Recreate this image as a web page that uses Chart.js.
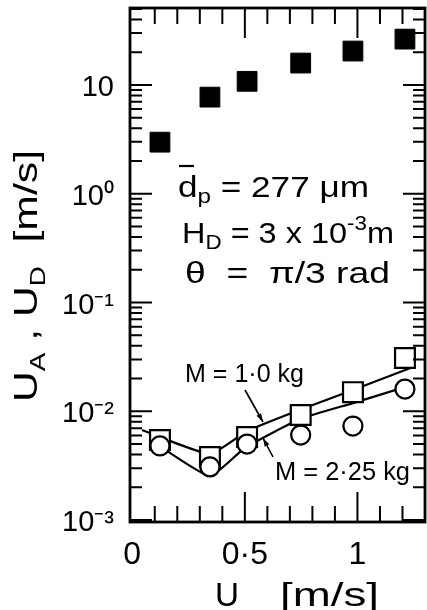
<!DOCTYPE html>
<html>
<head>
<meta charset="utf-8">
<script src="https://cdn.jsdelivr.net/npm/chart.js@4/dist/chart.umd.min.js"></script>
<style>
html, body { margin: 0; padding: 0; background: #fff; }
</style>
</head>
<body>
<canvas id="chart" width="427" height="610"></canvas>
<script>
// gas velocity U [m/s]
var speedU = [0.123, 0.345, 0.51, 0.748, 0.98, 1.211];
// U_A, filled squares
var uFilled = [2.98, 7.73, 10.8, 15.9, 20.5, 26.4];
// U_D, open squares (M = 1.0 kg) and open circles (M = 2.25 kg)
var uSquare = [5.44e-3, 3.80e-3, 5.81e-3, 9.24e-3, 1.50e-2, 3.09e-2];
var uCircle = [4.80e-3, 3.08e-3, 5.00e-3, 6.05e-3, 7.32e-3, 1.60e-2];
// fitted curves
var curveM1U = [0.043, 0.345, 0.51, 0.754, 0.98, 1.247];
var curveM1 = [6.73e-3, 4.05e-3, 6.58e-3, 1.05e-2, 1.57e-2, 2.55e-2];
var curveM2U = [0.128, 0.345, 0.50, 0.745, 0.98, 1.211];
var curveM2 = [4.69e-3, 2.54e-3, 4.60e-3, 8.49e-3, 1.19e-2, 1.67e-2];
// tick labels
var xTickValues = [0, 0.5, 1];
var xTickLabels = ['0', '0·5', '1'];
var yTickValues = [1e-3, 1e-2, 1e-1, 1, 10];
var yTickLabels = ['10⁻³', '10⁻²', '10⁻¹', '10⁰', '10'];

var FONT = '"Liberation Sans", Arial, sans-serif';

function pts(xs, ys) {
	var out = [];
	for (var i = 0; i < xs.length; i++) out.push({x: xs[i], y: ys[i]});
	return out;
}

function findLabel(v, values, labels) {
	for (var i = 0; i < values.length; i++) {
		if (Math.abs(v - values[i]) < values[i] * 1e-6 + 1e-9) return labels[i];
	}
	return '';
}

// draws a line of text made of parts [text, size, dy], stretched to x0..x1
function richLine(ctx, parts, x0, x1, base) {
	var w = 0;
	parts.forEach(function(p) {
		ctx.font = p[1] + 'px ' + FONT;
		p.w = ctx.measureText(p[0]).width;
		w += p.w;
	});
	ctx.save();
	ctx.translate(x0, base);
	ctx.scale((x1 - x0) / w, 1);
	var x = 0;
	parts.forEach(function(p) {
		ctx.font = p[1] + 'px ' + FONT;
		ctx.fillText(p[0], x, p[2] || 0);
		x += p.w;
	});
	ctx.restore();
}

function arrow(ctx, x1, y1, x2, y2) {
	var a = Math.atan2(y2 - y1, x2 - x1);
	ctx.beginPath();
	ctx.moveTo(x1, y1);
	ctx.lineTo(x2, y2);
	ctx.stroke();
	ctx.beginPath();
	ctx.moveTo(x2, y2);
	ctx.lineTo(x2 - 9 * Math.cos(a - 0.3), y2 - 9 * Math.sin(a - 0.3));
	ctx.lineTo(x2 - 9 * Math.cos(a + 0.3), y2 - 9 * Math.sin(a + 0.3));
	ctx.closePath();
	ctx.fill();
}

var frame = {
	id: 'frame',
	afterDraw: function(chart) {
		var ctx = chart.ctx;
		var a = chart.chartArea;
		var xs = chart.scales.x, ys = chart.scales.y;
		ctx.save();
		ctx.strokeStyle = '#000';
		ctx.fillStyle = '#000';
		ctx.lineCap = 'butt';

		// inward ticks
		ctx.lineWidth = 2;
		ctx.beginPath();
		for (var i = 1; i <= 12; i++) {
			var v = i / 10;
			var px = xs.getPixelForValue(v);
			var len = (i % 5 == 0) ? 30 : 16;
			ctx.moveTo(px, a.bottom); ctx.lineTo(px, a.bottom - len);
			ctx.moveTo(px, a.top); ctx.lineTo(px, a.top + len);
		}
		for (var e = -3; e <= 1; e++) {
			for (var m = 1; m <= 9; m++) {
				var val = m * Math.pow(10, e);
				if (val < ys.min || val > ys.max) continue;
				var py = ys.getPixelForValue(val);
				var l = (m == 1) ? 22 : 12;
				ctx.moveTo(a.left, py); ctx.lineTo(a.left + l, py);
				ctx.moveTo(a.right, py); ctx.lineTo(a.right - l, py);
			}
		}
		ctx.stroke();

		// axis box
		ctx.lineWidth = 2.8;
		ctx.strokeRect(a.left, a.top, a.right - a.left, a.bottom - a.top);

		// annotation block
		ctx.textBaseline = 'alphabetic';
		ctx.textAlign = 'left';
		richLine(ctx, [['d', 29], ['p', 20, 6], [' = 277 μm', 29]], 178, 369, 197);
		ctx.lineWidth = 2.2;
		ctx.beginPath(); ctx.moveTo(179, 166); ctx.lineTo(194, 166); ctx.stroke();
		richLine(ctx, [['H', 29], ['D', 20, 6], [' = 3 x 10', 29], ['-3', 20, -13], ['m', 29]], 182, 394, 243);
		richLine(ctx, [['θ  =  ', 29], ['π', 29], ['/3 rad', 29]], 185, 390, 283);

		// curve labels
		richLine(ctx, [['M = 1·0 kg', 25]], 185, 304, 382);
		richLine(ctx, [['M = 2·25 kg', 25]], 275, 410, 480);
		ctx.lineWidth = 1.6;
		arrow(ctx, 245, 390, 263, 422);
		arrow(ctx, 273, 457, 263, 438);

		// x axis title
		richLine(ctx, [['U', 34]], 215, 239, 606);
		richLine(ctx, [['[m/s]', 34]], 280, 379, 606);

		// y axis title
		ctx.save();
		ctx.translate(37, 402);
		ctx.rotate(-Math.PI / 2);
		richLine(ctx, [['U', 34], ['A', 22, 8], [' , ', 34], ['U', 34], ['D', 22, 8], ['  [m/s]', 34]], 0, 252, 0);
		ctx.restore();

		ctx.restore();
	}
};

var chart = new Chart(document.getElementById('chart').getContext('2d'), {
	type: 'scatter',
	data: {
		datasets: [
			{
				label: 'M = 2.25 kg',
				data: pts(speedU, uCircle),
				pointStyle: 'circle',
				pointRadius: 9.5,
				backgroundColor: '#fff',
				borderColor: '#000',
				borderWidth: 2.2,
				order: 1
			},
			{
				label: 'M = 1.0 kg',
				data: pts(speedU, uSquare),
				pointStyle: 'rect',
				pointRadius: 14,
				backgroundColor: '#fff',
				borderColor: '#000',
				borderWidth: 2.2,
				order: 2
			},
			{
				label: 'U_A',
				data: pts(speedU, uFilled),
				pointStyle: 'rect',
				pointRadius: 14,
				backgroundColor: '#000',
				borderColor: '#000',
				borderWidth: 1,
				order: 2
			},
			{
				label: 'curve M = 1.0 kg',
				data: pts(curveM1U, curveM1),
				showLine: true,
				pointRadius: 0,
				borderColor: '#000',
				borderWidth: 2.2,
				tension: 0.15,
				order: 3
			},
			{
				label: 'curve M = 2.25 kg',
				data: pts(curveM2U, curveM2),
				showLine: true,
				pointRadius: 0,
				borderColor: '#000',
				borderWidth: 2.2,
				tension: 0.15,
				order: 3
			}
		]
	},
	options: {
		responsive: false,
		animation: false,
		layout: { autoPadding: false, padding: { top: 8, right: 2, left: 0, bottom: 0 } },
		plugins: {
			legend: { display: false },
			tooltip: { enabled: false }
		},
		scales: {
			x: {
				type: 'linear',
				min: -0.01,
				max: 1.3,
				grid: { display: false },
				border: { display: false },
				ticks: {
					autoSkip: false,
					maxRotation: 0,
					padding: 6,
					color: '#000',
					font: { family: FONT, size: 32 },
					callback: function(v) { return findLabel(v, xTickValues, xTickLabels); }
				},
				afterBuildTicks: function(s) {
					s.ticks = xTickValues.map(function(v) { return {value: v}; });
				},
				afterFit: function(s) {
					s.height = 88;
					s.paddingLeft = 0;
					s.paddingRight = 0;
				}
			},
			y: {
				type: 'logarithmic',
				min: 0.00096,
				max: 51,
				grid: { display: false },
				border: { display: false },
				ticks: {
					autoSkip: false,
					padding: 8,
					labelOffset: 3,
					color: '#000',
					font: { family: FONT, size: 29 },
					callback: function(v) { return findLabel(v, yTickValues, yTickLabels); }
				},
				afterBuildTicks: function(s) {
					s.ticks = yTickValues.map(function(v) { return {value: v}; });
				},
				afterFit: function(s) {
					s.width = 130;
					s.paddingTop = 0;
					s.paddingBottom = 0;
				}
			}
		}
	},
	plugins: [frame]
});
</script>
</body>
</html>
